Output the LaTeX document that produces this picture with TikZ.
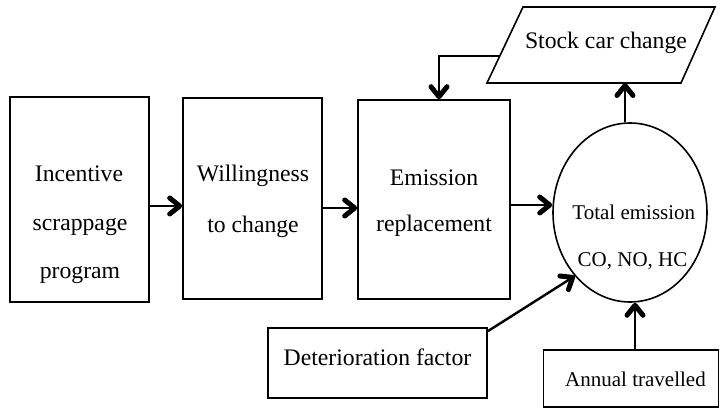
\documentclass[tikz,border=0pt]{standalone}
\usepackage{fontspec}
\setmainfont{Liberation Serif}
\usetikzlibrary{arrows.meta,shapes.geometric}
\begin{document}
\begin{tikzpicture}[x=1pt,y=-1pt,
  box/.style={draw,line width=1.6pt,inner sep=0pt},
  flow/.style={line width=2.4pt,-{Straight Barb[length=10pt,width=16pt,line width=5pt,round]}},
  big/.style={anchor=base,inner sep=0pt,font=\fontsize{23.7}{28}\selectfont},
  small/.style={anchor=base,inner sep=0pt,font=\fontsize{21}{25}\selectfont}
]
\useasboundingbox[fill=white] (0,0) rectangle (720,409);

% process boxes
\node[box,minimum width=139pt,minimum height=205pt] (incent) at (79.5,199.5) {};
\node[box,minimum width=139pt,minimum height=201pt] (will)   at (252.5,198.5) {};
\node[box,minimum width=152pt,minimum height=199pt] (repl)   at (434,199.5) {};
\node[box,ellipse,minimum width=154pt,minimum height=179pt] (emis) at (630,212.5) {};
\node[box,minimum width=219pt,minimum height=70pt] (deter)  at (377.5,363) {};
\node[box,minimum width=175pt,minimum height=57pt] (annual) at (631,378.5) {};

% stock change parallelogram
\draw[line width=1.6pt] (523,7) -- (715,7) -- (681,83) -- (487,83) -- cycle;
\coordinate (stockL) at (500,56);
\coordinate (stockB) at (625,83);
\coordinate (fbx) at (439,0);

% labels
\node[big] (t1a) at (79,181.7) {Incentive};
\node[big] (t1b) at (80,230) {scrappage};
\node[big] (t1c) at (80,278) {program};
\node[big] (t2a) at (253,182) {Willingness};
\node[big] (t2b) at (253,232) {to change};
\node[big] (t3a) at (434,185) {Emission};
\node[big] (t3b) at (434,231.7) {replacement};
\node[small] (t4a) at (633.8,219.3) {Total emission};
\node[small] (t4b) at (632.5,266.7) {CO, NO, HC};
\node[big] (t5) at (606,48.3) {Stock car change};
\node[big] (t6) at (377.5,365) {Deterioration factor};
\node[small] (t7) at (635.5,386.7) {Annual travelled};

% connectors
\draw[flow] ([yshift=-6.5pt]incent.east) -- ([yshift=-7.5pt]will.west);
\draw[flow] ([yshift=-9.5pt]will.east) -- ([yshift=-8.5pt]repl.west);
\draw[flow] ([yshift=-5.5pt]repl.east) -- ([yshift=7.5pt]emis.west);
\draw[flow] ([xshift=-5pt]emis.north) -- (stockB);
\draw[flow] (stockL) -| (fbx |- repl.north);
\draw[flow] ([yshift=-4pt]deter.north east) -- (emis.229);
\draw[flow] ([xshift=4pt]annual.north) -- ([xshift=5pt]emis.south);
\end{tikzpicture}
\end{document}
